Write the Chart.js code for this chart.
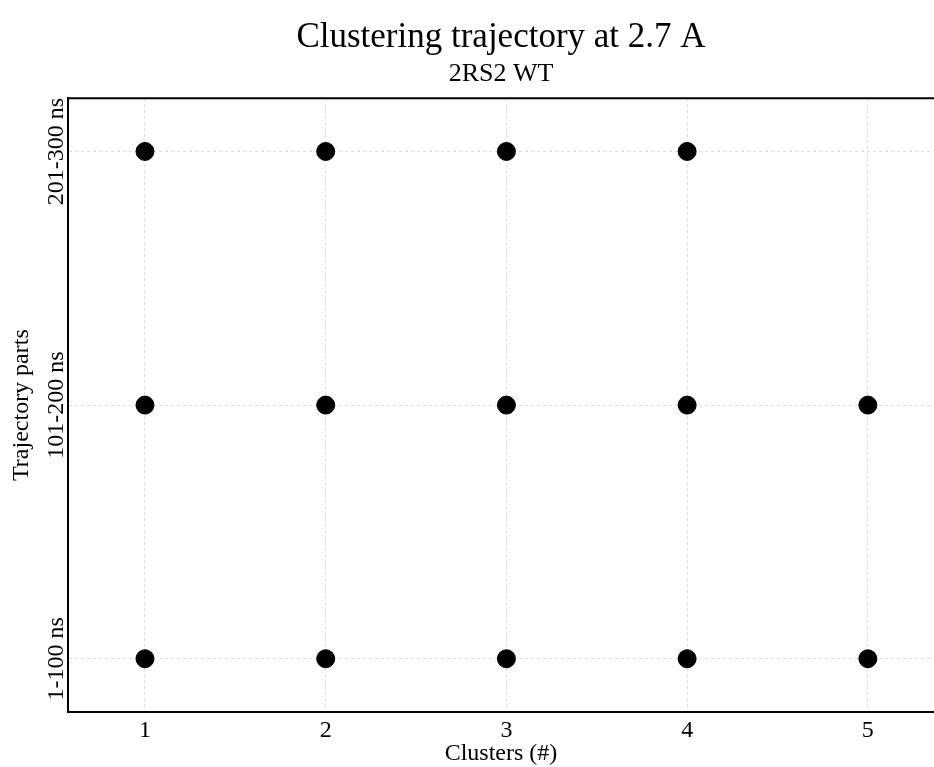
<!DOCTYPE html>
<html>
<head>
<meta charset="utf-8">
<script src="https://cdn.jsdelivr.net/npm/chart.js@4"></script>
<style>
  body { margin: 0; background: #fff; }
  #wrap { width: 934px; height: 767px; }
</style>
</head>
<body>
<div id="wrap"><canvas id="myChart" width="934" height="767"></canvas></div>
<script>
  // data
  var clusters = [1, 2, 3, 4, 5, 1, 2, 3, 4, 5, 1, 2, 3, 4];
  var partIndex = [0, 0, 0, 0, 0, 1, 1, 1, 1, 1, 2, 2, 2, 2];
  var partLabels = ["1-100 ns", "101-200 ns", "201-300 ns"];

  var points = clusters.map(function (c, i) { return { x: c, y: partIndex[i] }; });
  var serif = "'Liberation Serif', 'DejaVu Serif', serif";

  // top frame line + rotated y tick labels
  var extras = {
    id: "extras",
    afterDatasetsDraw: function (chart) {
      var a = chart.chartArea, ctx = chart.ctx, y = chart.scales.y;
      ctx.save();
      ctx.strokeStyle = "#000";
      ctx.lineWidth = 2;
      ctx.beginPath();
      ctx.moveTo(a.left - 1, a.top);
      ctx.lineTo(a.right, a.top);
      ctx.stroke();

      ctx.fillStyle = "#000";
      ctx.font = "24px " + serif;
      ctx.textAlign = "center";
      ctx.textBaseline = "middle";
      partLabels.forEach(function (lab, i) {
        var py = y.getPixelForValue(i);
        ctx.save();
        ctx.translate(a.left - 11, py);
        ctx.rotate(-Math.PI / 2);
        ctx.fillText(lab, 0, 0);
        ctx.restore();
      });
      ctx.restore();
    }
  };

  Chart.defaults.font.family = serif;
  Chart.defaults.color = "#000";

  new Chart("myChart", {
    type: "scatter",
    data: {
      datasets: [{
        data: points,
        backgroundColor: "#000",
        borderColor: "#000",
        pointRadius: 9,
        pointHoverRadius: 9
      }]
    },
    options: {
      responsive: false,
      animation: false,
      layout: { autoPadding: false, padding: { left: 7, right: 0, top: 0, bottom: -1 } },
      plugins: {
        legend: { display: false },
        tooltip: { enabled: false },
        title: {
          display: true,
          fullSize: false,
          text: "Clustering trajectory at 2.7 A",
          font: { size: 35, weight: "normal" },
          padding: { top: 17, bottom: 0 }
        },
        subtitle: {
          display: true,
          fullSize: false,
          text: "2RS2 WT",
          font: { size: 26, weight: "normal" },
          padding: { top: 0, bottom: 8 }
        }
      },
      scales: {
        x: {
          type: "linear",
          min: 0.574,
          max: 5.366,
          afterFit: function (s) { s.height = 56; s.paddingLeft = 0; s.paddingRight = 0; },
          ticks: { stepSize: 1, includeBounds: false, font: { size: 24 }, padding: 4 },
          grid: { color: "#dcdcdc", lineWidth: 1, drawTicks: false },
          border: { color: "#000", width: 2, dash: [3, 3] },
          title: { display: true, text: "Clusters (#)", font: { size: 24 }, padding: { top: 0, bottom: 0 } }
        },
        y: {
          type: "linear",
          min: -0.21,
          max: 2.21,
          afterFit: function (s) { s.width = 61; },
          ticks: { stepSize: 1, includeBounds: false, display: false },
          grid: { color: "#dcdcdc", lineWidth: 1, drawTicks: false },
          border: { color: "#000", width: 2, dash: [3, 3] },
          title: { display: true, text: "Trajectory parts", font: { size: 24 }, padding: { top: 0, bottom: 0 } }
        }
      }
    },
    plugins: [extras]
  });
</script>
</body>
</html>
